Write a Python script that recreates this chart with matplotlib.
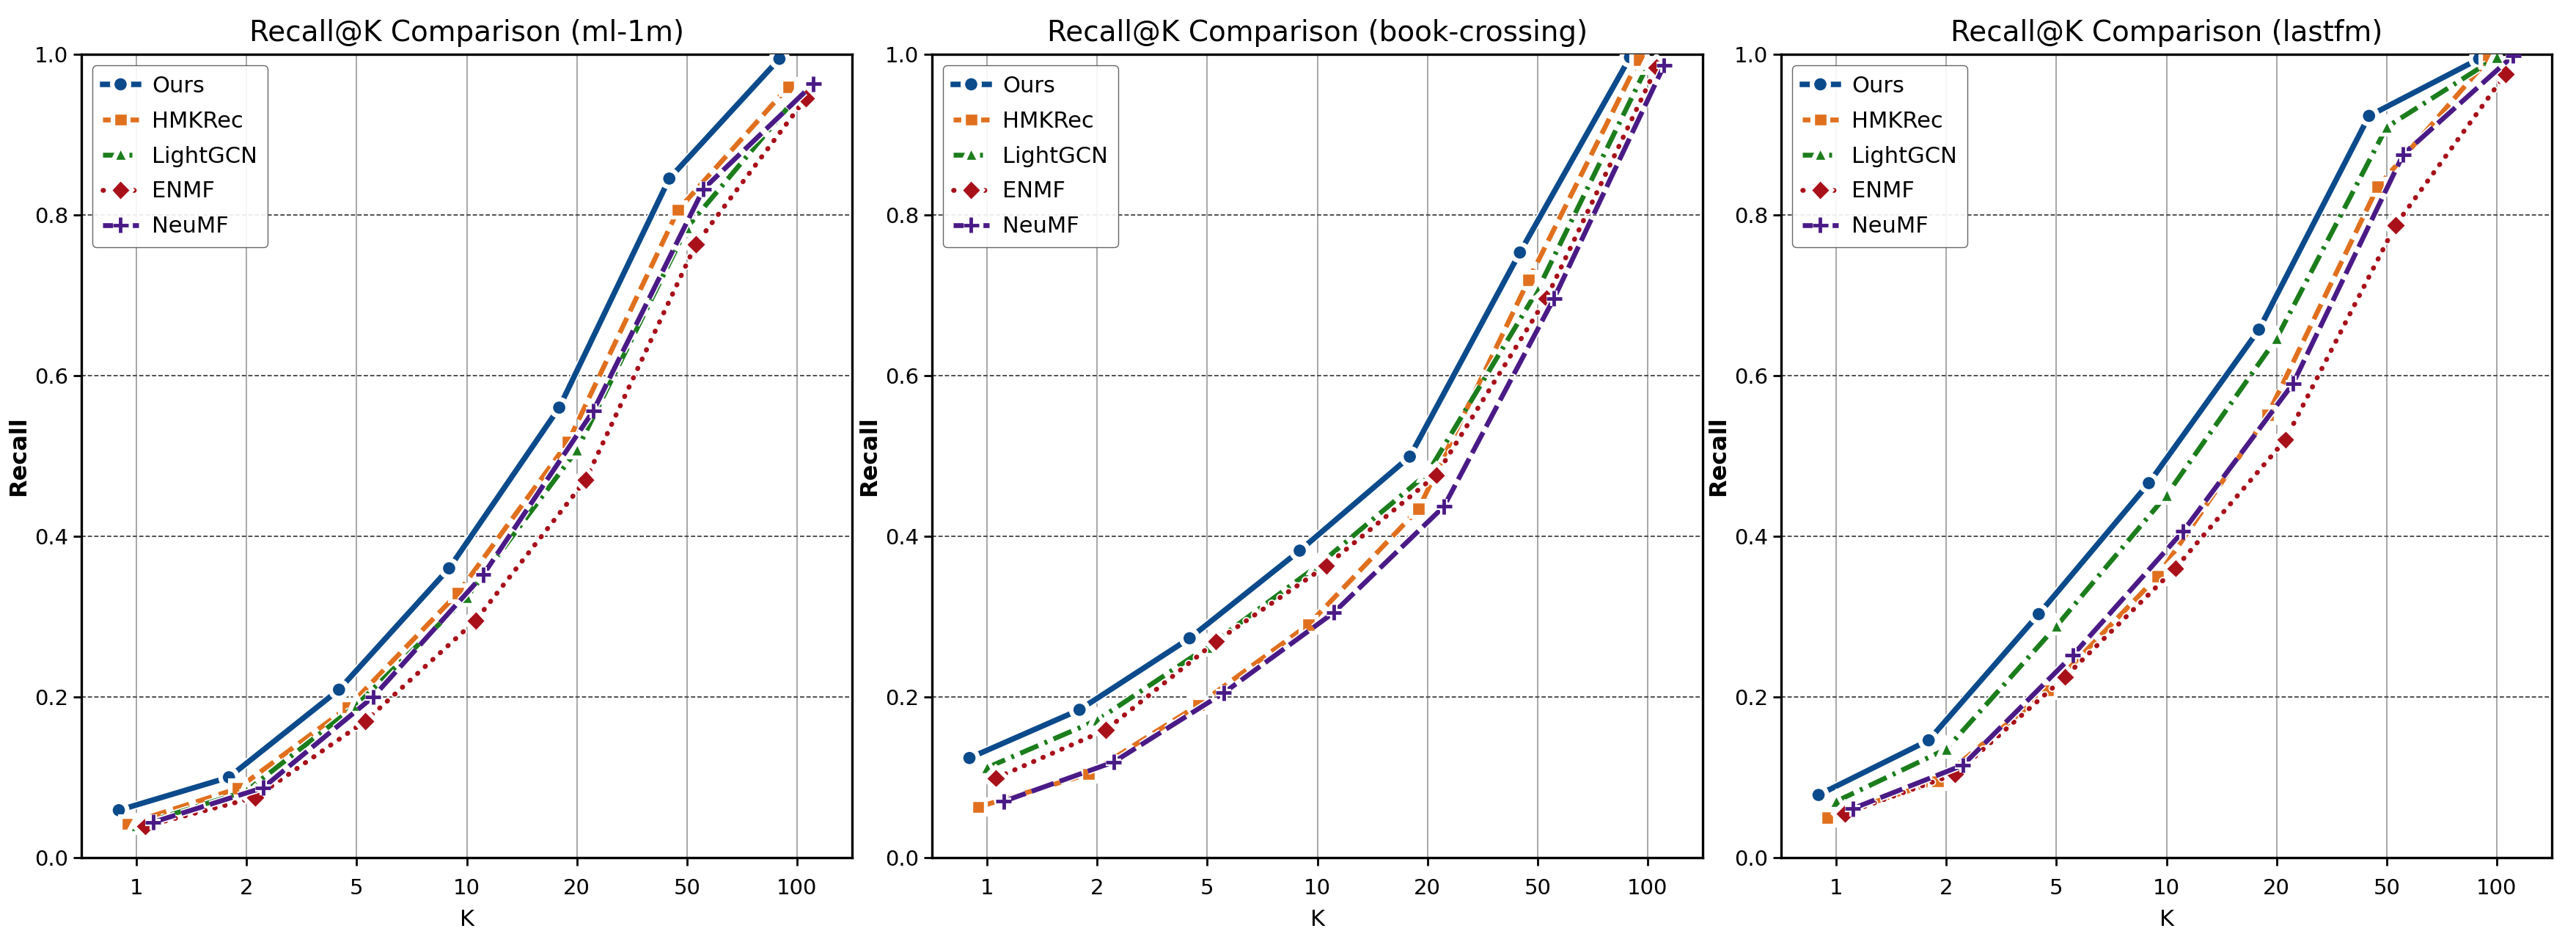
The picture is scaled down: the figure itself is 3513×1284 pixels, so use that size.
import matplotlib
matplotlib.use("Agg")
import matplotlib.pyplot as plt
import matplotlib.patheffects as pe
import numpy as np

# ---------- data ----------
k_labels = ["1", "2", "5", "10", "20", "50", "100"]
models = ["Ours", "HMKRec", "LightGCN", "ENMF", "NeuMF"]
datasets = ["ml-1m", "book-crossing", "lastfm"]

ml1m_ours = [0.059, 0.100, 0.209, 0.360, 0.560, 0.845, 0.994]
ml1m_hmkrec = [0.042, 0.086, 0.187, 0.329, 0.517, 0.806, 0.959]
ml1m_lightgcn = [0.040, 0.083, 0.190, 0.324, 0.507, 0.784, 0.947]
ml1m_enmf = [0.039, 0.075, 0.170, 0.295, 0.470, 0.763, 0.945]
ml1m_neumf = [0.044, 0.087, 0.200, 0.352, 0.556, 0.832, 0.963]

book_ours = [0.124, 0.184, 0.273, 0.382, 0.499, 0.753, 0.996]
book_hmkrec = [0.063, 0.104, 0.190, 0.290, 0.434, 0.719, 0.993]
book_lightgcn = [0.112, 0.171, 0.262, 0.363, 0.478, 0.706, 0.986]
book_enmf = [0.099, 0.159, 0.269, 0.363, 0.476, 0.696, 0.983]
book_neumf = [0.070, 0.119, 0.205, 0.305, 0.437, 0.696, 0.986]

lastfm_ours = [0.078, 0.146, 0.303, 0.466, 0.657, 0.923, 0.994]
lastfm_hmkrec = [0.050, 0.095, 0.208, 0.350, 0.551, 0.835, 0.993]
lastfm_lightgcn = [0.070, 0.135, 0.288, 0.451, 0.646, 0.909, 0.996]
lastfm_enmf = [0.055, 0.104, 0.225, 0.360, 0.520, 0.787, 0.975]
lastfm_neumf = [0.061, 0.115, 0.252, 0.406, 0.590, 0.875, 0.998]

results = {
    "ml-1m": [ml1m_ours, ml1m_hmkrec, ml1m_lightgcn, ml1m_enmf, ml1m_neumf],
    "book-crossing": [book_ours, book_hmkrec, book_lightgcn, book_enmf, book_neumf],
    "lastfm": [lastfm_ours, lastfm_hmkrec, lastfm_lightgcn, lastfm_enmf, lastfm_neumf],
}

# ---------- styles ----------
colors = ["#0b4a8b", "#e0701e", "#1b7d1b", "#a8101a", "#4a1a86"]
markers = ["o", "s", "^", "D", "+"]
linestyles = ["-", (0, (3.4, 1.5)), (0, (4, 1.4, 0.6, 1.4)), (0, (0.1, 2.0)), (0, (4.8, 1.3))]
msizes = [13, 12, 11, 13, 15]
offsets = [-0.16, -0.08, 0.0, 0.08, 0.15]

plt.rcParams["font.family"] = ["DejaVu Sans"]

W, H = 3513, 1284
fig = plt.figure(figsize=(W / 100, H / 100), dpi=100)

lefts = [111, 1271, 2429]
ax_w = 1051
ax_top = 73.6
ax_bot = 1169

x = np.arange(len(k_labels))

for i, name in enumerate(datasets):
    ax = fig.add_axes([lefts[i] / W, 1 - ax_bot / H, ax_w / W, (ax_bot - ax_top) / H])
    for j, m in enumerate(models):
        lw = 5.4 if j == 0 else 4.8
        plus = markers[j] == "+"
        ax.plot(x + offsets[j], results[name][j], label=m, color=colors[j],
                linestyle=linestyles[j], linewidth=lw, marker=markers[j],
                markersize=msizes[j],
                markeredgecolor=colors[j] if plus else "white",
                markeredgewidth=3.5 if plus else 1.0,
                dash_capstyle="round" if j == 3 else "butt",
                zorder=3 + j,
                path_effects=[pe.Stroke(linewidth=lw + 2.5, foreground="white"), pe.Normal()])

    ax.set_xlim(-0.5, 6.5)
    ax.set_ylim(0, 1.0)
    ax.set_xticks(x)
    ax.set_xticklabels(k_labels)
    ax.set_yticks([0.0, 0.2, 0.4, 0.6, 0.8, 1.0])
    ax.set_yticklabels(["0.0", "0.2", "0.4", "0.6", "0.8", "1.0"])
    ax.tick_params(axis="both", labelsize=21, width=2, length=8)
    ax.tick_params(axis="x", pad=12)
    ax.tick_params(axis="y", pad=5)

    ax.xaxis.grid(True, color="#a0a0a0", linewidth=1.3, linestyle="-", zorder=0)
    ax.yaxis.grid(True, color="#505050", linewidth=1.4, linestyle=(0, (3, 1.5)), zorder=0)
    ax.set_axisbelow(True)
    for s in ax.spines.values():
        s.set_linewidth(2.4)

    ax.set_title(f"Recall@K Comparison ({name})", fontsize=28, pad=13)
    ax.set_xlabel("K", fontsize=22, labelpad=10)
    ax.set_ylabel("Recall", fontsize=23, fontweight="bold", labelpad=4)
    ax.legend(loc="upper left", fontsize=22, handlelength=1.6, handletextpad=0.6,
              labelspacing=0.62, borderpad=0.45, framealpha=0.9, edgecolor="#555555")

fig.savefig("out.png", dpi=100)
